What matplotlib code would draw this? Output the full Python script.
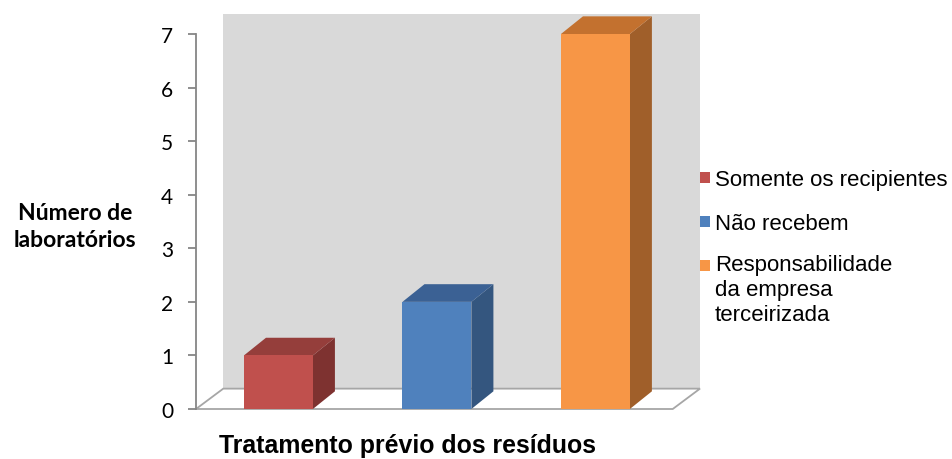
import matplotlib
matplotlib.use("Agg")
import matplotlib.pyplot as plt
from matplotlib.patches import Polygon, Rectangle

categories = ["Somente os recipientes", "Não recebem",
              "Responsabilidade\nda empresa\nterceirizada"]
values = [1, 2, 7]
yticks = [0, 1, 2, 3, 4, 5, 6, 7]
ylabel = "Número de\nlaboratórios"
xlabel = "Tratamento prévio dos resíduos"

front_cols = ["#c0504d", "#4f81bd", "#f79646"]
side_cols = ["#7e3230", "#34567f", "#a05f2a"]
top_cols = ["#953e3b", "#3b6194", "#c3712f"]

W, H = 953, 460
fig = plt.figure(figsize=(W / 100, H / 100), dpi=100)

# axes in pixel geometry
px_left, px_right, px_bottom, px_top = 196, 700, 410, 13.6
ax = fig.add_axes([px_left / W, 1 - px_bottom / H,
                   (px_right - px_left) / W, (px_bottom - px_top) / H])
xl, xr = -0.52, 2.66
ylo, yhi = 0, 7.4
ax.set_xlim(xl, xr)
ax.set_ylim(ylo, yhi)

DXW, DYW = 0.172, 0.38   # wall depth
DXB, DYB = 0.139, 0.33   # bar depth
BW = 0.435

# back wall
ax.add_patch(Polygon([(xl + DXW, DYW), (xr, DYW), (xr, yhi - 0.03), (xl + DXW, yhi - 0.03)],
                     closed=True, facecolor="#d9d9d9", edgecolor="none", zorder=0))
# floor
ax.add_patch(Polygon([(xl, 0), (xr - DXW, 0), (xr, DYW), (xl + DXW, DYW)],
                     closed=True, facecolor="white", edgecolor="#a6a6a6", lw=1.3, zorder=1,
                     clip_on=False))

xs = list(range(len(values)))
ax.bar(xs, values, width=BW, color=front_cols, zorder=3, linewidth=0)
for x, v, sc, tc in zip(xs, values, side_cols, top_cols):
    r = x + BW / 2
    l = x - BW / 2
    ax.add_patch(Polygon([(r, 0), (r + DXB, DYB), (r + DXB, v + DYB), (r, v)],
                         closed=True, facecolor=sc, edgecolor="none", zorder=2))
    ax.add_patch(Polygon([(l, v), (r, v), (r + DXB, v + DYB), (l + DXB, v + DYB)],
                         closed=True, facecolor=tc, edgecolor="none", zorder=2))

for s in ["top", "right", "bottom"]:
    ax.spines[s].set_visible(False)
ax.spines["left"].set_bounds(0, 7)
ax.spines["left"].set_color("#868686")
ax.spines["left"].set_linewidth(1.3)
ax.set_xticks([])
ax.set_yticks(yticks)
ax.tick_params(axis="y", direction="out", length=5.5, width=1.3, color="#868686",
               pad=11, labelsize=15, labelcolor="black")
for lab in ax.get_yticklabels():
    lab.set_fontfamily("Lato")
    lab.set_verticalalignment("center_baseline")
ax.patch.set_visible(False)

fig.text(75 / W, 1 - 227 / H, ylabel, ha="center", va="center", fontsize=16.5,
         fontweight="bold", family="Lato", linespacing=1.35)
fig.text(408 / W, 1 - 446 / H, xlabel, ha="center", va="center", fontsize=17.9,
         fontweight="bold", family="Liberation Sans")

# legend (manual)
sq_top = [173, 217, 261]
txt_top = [170, 214, 255]
for lab, c, ys, yt in zip(categories, front_cols, sq_top, txt_top):
    fig.patches.append(Rectangle((700 / W, 1 - (ys + 11) / H), 10 / W, 11 / H,
                                 transform=fig.transFigure, facecolor=c, edgecolor="none"))
    fig.text(715 / W, 1 - yt / H, lab, ha="left", va="top", fontsize=16,
             family="Liberation Sans", linespacing=1.25)

fig.savefig("out.png", dpi=100)
